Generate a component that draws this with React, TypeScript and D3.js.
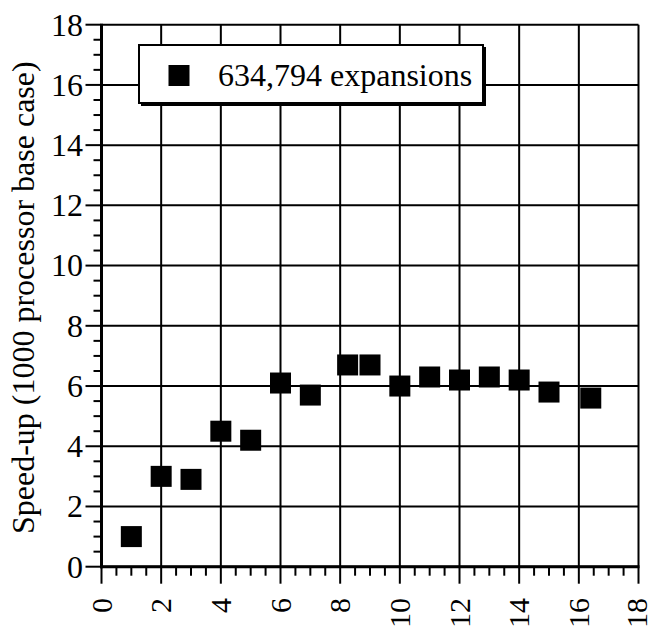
import React from "react";
import * as d3 from "d3";

const processors: number[] = [1, 2, 3, 4, 5, 6, 7, 8.25, 9, 10, 11, 12, 13, 14, 15, 16.4];
const speedup: number[] = [1.0, 3.0, 2.9, 4.5, 4.2, 6.1, 5.7, 6.7, 6.7, 6.0, 6.3, 6.2, 6.3, 6.2, 5.8, 5.6];
const majorTicks: number[] = [0, 2, 4, 6, 8, 10, 12, 14, 16, 18];
const seriesLabel = "634,794 expansions";
const yTitle = "Speed-up (1000 processor base case)";

const W = 653;
const H = 634;
const FONT = '"Liberation Serif", "DejaVu Serif", serif';
const txt: React.CSSProperties = { fontFamily: FONT };

export default function App() {
  const x = d3.scaleLinear().domain([0, 18]).range([101.5, 638.5]);
  const y = d3.scaleLinear().domain([0, 18]).range([566.7, 24.7]);
  const minor = d3.range(0, 18.01, 0.5).filter((v) => v % 2 !== 0);
  const sq = 21;

  return (
    <svg
      width={W}
      height={H}
      style={{ position: "absolute", left: 0, top: 0, background: "#fff" }}
    >
      <rect x={0} y={0} width={W} height={H} fill="#fff" />
      {/* grid lines */}
      {majorTicks.map((t) => (
        <line key={"gv" + t} x1={x(t)} x2={x(t)} y1={y(0)} y2={y(18)} stroke="#000" strokeWidth={2} />
      ))}
      {majorTicks.map((t) => (
        <line key={"gh" + t} x1={x(0)} x2={x(18)} y1={y(t)} y2={y(t)} stroke="#000" strokeWidth={2} />
      ))}
      {/* axes */}
      <line x1={x(0)} x2={x(0)} y1={y(0) + 1.5} y2={y(18) - 1} stroke="#000" strokeWidth={3} />
      <line x1={x(0) - 1.5} x2={x(18) + 1} y1={y(0)} y2={y(0)} stroke="#000" strokeWidth={3} />
      {/* y ticks */}
      {majorTicks.map((t) => (
        <line key={"ytm" + t} x1={x(0) - 16} x2={x(0)} y1={y(t)} y2={y(t)} stroke="#000" strokeWidth={2} />
      ))}
      {minor.map((t) => (
        <line key={"ytn" + t} x1={x(0) - 8} x2={x(0)} y1={y(t)} y2={y(t)} stroke="#000" strokeWidth={2} />
      ))}
      {/* x ticks */}
      {majorTicks.map((t) => (
        <line key={"xtm" + t} x1={x(t)} x2={x(t)} y1={y(0)} y2={y(0) + 17} stroke="#000" strokeWidth={2} />
      ))}
      {minor.map((t) => (
        <line key={"xtn" + t} x1={x(t)} x2={x(t)} y1={y(0)} y2={y(0) + 9} stroke="#000" strokeWidth={2} />
      ))}
      {/* y labels */}
      {majorTicks.map((t) => (
        <text key={"yl" + t} x={83} y={y(t)} dy="0.34em" textAnchor="end" fontSize={32} fill="#000" style={txt}>
          {t}
        </text>
      ))}
      {/* x labels */}
      {majorTicks.map((t) => (
        <text
          key={"xl" + t}
          transform={`translate(${Math.min(x(t), 637)},${598}) rotate(-90)`}
          dy="0.34em"
          textAnchor="end"
          fontSize={30}
          fill="#000"
          style={txt}
        >
          {t}
        </text>
      ))}
      {/* y title */}
      <text
        transform={`translate(34,${(y(0) + y(18)) / 2 + 2}) rotate(-90)`}
        textAnchor="middle"
        fontSize={32}
        fill="#000"
        style={txt}
      >
        {yTitle}
      </text>
      {/* points */}
      {processors.map((p, i) => (
        <rect key={"pt" + i} x={x(p) - sq / 2} y={y(speedup[i]) - sq / 2} width={sq} height={sq} fill="#000" />
      ))}
      {/* legend */}
      <rect x={141} y={47} width={345} height={59} fill="#000" />
      <rect x={139} y={45} width={344} height={58} fill="#fff" stroke="#000" strokeWidth={2} />
      <rect x={179 - sq / 2} y={75.5 - sq / 2} width={sq} height={sq} fill="#000" />
      <text x={218} y={86} fontSize={32} fill="#000" style={txt}>
        {seriesLabel}
      </text>
    </svg>
  );
}
